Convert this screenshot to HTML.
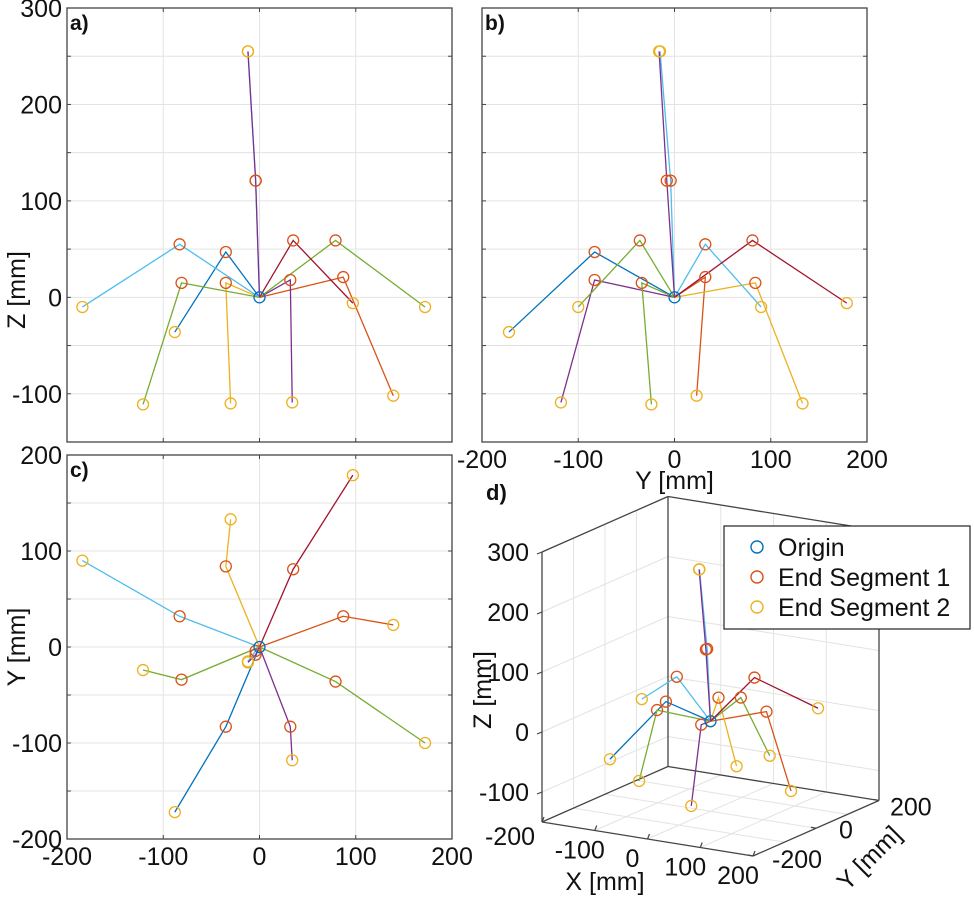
<!DOCTYPE html>
<html><head><meta charset="utf-8">
<style>
html,body{margin:0;padding:0;background:#fff;}
svg{display:block;font-family:"Liberation Sans",Arial,sans-serif;}
</style></head>
<body>
<svg id="fig" width="974" height="897" viewBox="0 0 974 897" xmlns="http://www.w3.org/2000/svg"></svg>
<script>
// ---- data: legs, origin -> end segment 1 -> end segment 2 (mm) ----
const legNames = ["leg-1","leg-2","leg-3","leg-4","leg-5","leg-6","leg-7","leg-8","leg-9","leg-10"];
const seg1X = [-35, 87, -35, 32, -81, 79, -83, 35, -4, -4];
const seg1Y = [-83, 32, 84, -83, -34, -36, 32, 81, -4, -8];
const seg1Z = [47, 21, 15, 18, 15, 59, 55, 59, 121, 121];
const seg2X = [-88, 139, -30, 34, -121, 172, -184, 97, -12, -12];
const seg2Y = [-172, 23, 133, -118, -24, -100, 90, 179, -15, -16];
const seg2Z = [-36, -102, -110, -109, -111, -10, -10, -6, 255, 255];
const legColors = ["#0072BD","#D95319","#EDB120","#7E2F8E","#77AC30","#77AC30","#4DBEEE","#A2142F","#4DBEEE","#7E2F8E"];
const legendLabels = ["Origin","End Segment 1","End Segment 2"];
const markerColors = ["#0072BD","#D95319","#EDB120"];
const ticks100 = [-200,-100,0,100,200];
const zTicks = [-100,0,100,200,300];
const zMinor = [-150,-100,-50,0,50,100,150,200,250,300];
const yMinor = [-200,-150,-100,-50,0,50,100,150,200];
const NS = "http://www.w3.org/2000/svg";
const svg = document.getElementById("fig");
const FS = 25;
function mk(tag, attrs, parent, text){
  const e = document.createElementNS(NS, tag);
  for (const k in attrs) e.setAttribute(k, attrs[k]);
  if (text !== undefined) e.textContent = text;
  (parent || svg).appendChild(e);
  return e;
}
function lin(d0,d1,r0,r1){ return v => r0 + (v-d0)*(r1-r0)/(d1-d0); }

function panel2D(opt){
  const g = mk("g", {});
  
  
  const sx = lin(opt.xd[0], opt.xd[1], opt.x0, opt.x1);
  const sy = lin(opt.yd[0], opt.yd[1], opt.y0, opt.y1);
  opt.xGrid.forEach(v => {
    const l = mk("line", {x1:sx(v),x2:sx(v),y1:opt.y1,y2:opt.y0,stroke:"#e3e3e3","stroke-width":1}, g);
    
    
  });
  opt.yGrid.forEach(v => {
    const l = mk("line", {x1:opt.x0,x2:opt.x1,y1:sy(v),y2:sy(v),stroke:"#e3e3e3","stroke-width":1}, g);
    
    
  });
  opt.xGrid.forEach(v => {
    mk("line", {x1:sx(v),x2:sx(v),y1:opt.y0,y2:opt.y0-4,stroke:"#444"}, g);
    mk("line", {x1:sx(v),x2:sx(v),y1:opt.y1,y2:opt.y1+4,stroke:"#444"}, g);
  });
  opt.yGrid.forEach(v => {
    mk("line", {x1:opt.x0,x2:opt.x0+4,y1:sy(v),y2:sy(v),stroke:"#444"}, g);
    mk("line", {x1:opt.x1,x2:opt.x1-4,y1:sy(v),y2:sy(v),stroke:"#444"}, g);
  });
  for (let i=0;i<legNames.length;i++){
    const a = opt.get(i);
    const p = mk("polyline", {points:`${sx(0)},${sy(0)} ${sx(a[0])},${sy(a[1])} ${sx(a[2])},${sy(a[3])}`, fill:"none", stroke:legColors[i], "stroke-width":1.3}, g);
    
    
  }
  for (let i=0;i<legNames.length;i++){
    const a = opt.get(i);
    const c1 = mk("circle", {cx:sx(a[0]),cy:sy(a[1]),r:5.5,fill:"none",stroke:markerColors[1],"stroke-width":1.3}, g);
    
    
    const c2 = mk("circle", {cx:sx(a[2]),cy:sy(a[3]),r:5.5,fill:"none",stroke:markerColors[2],"stroke-width":1.3}, g);
    
    
  }
  const c0 = mk("circle", {cx:sx(0),cy:sy(0),r:5.5,fill:"none",stroke:markerColors[0],"stroke-width":1.3}, g);
  
  
  const b = mk("rect", {x:opt.x0,y:opt.y1,width:opt.x1-opt.x0,height:opt.y0-opt.y1,fill:"none",stroke:"#444","stroke-width":1.3}, g);
  
  
  if (opt.xLabels) opt.xLabels.forEach(v => {
    const t = mk("text", {x:sx(v),y:opt.xLabelY,"text-anchor":"middle","font-size":FS,fill:"#111"}, g, String(v));
    
    
  });
  if (opt.yLabels) opt.yLabels.forEach(v => {
    const t = mk("text", {x:opt.x0-5,y:sy(v)+9,"text-anchor":"end","font-size":FS,fill:"#111"}, g, String(v));
    
    
  });
  const pl = mk("text", {x:opt.x0+3,y:opt.y1+22,"font-size":21,"font-weight":"bold",fill:"#111"}, g, opt.tag);
  
  
  if (opt.yTitle){
    const yy = opt.yTitleY;
    const t = mk("text", {x:0,y:0,transform:`translate(25,${yy}) rotate(-90)`,"text-anchor":"middle","font-size":FS,fill:"#111"}, g, opt.yTitle);
    
    
  }
  if (opt.xTitle){
    const t = mk("text", {x:(opt.x0+opt.x1)/2,y:opt.xTitleY,"text-anchor":"middle","font-size":FS,fill:"#111"}, g, opt.xTitle);
    
    
  }
}

panel2D({name:"panel-a", tag:"a)", xd:[-200,200], yd:[-150,300], x0:67, x1:452, y0:442, y1:8,
  xGrid:[-100,0,100], yGrid:zMinor.slice(1,9), yLabels:zTicks, yTitle:"Z [mm]", yTitleY:290,
  get:i=>[seg1X[i],seg1Z[i],seg2X[i],seg2Z[i]]});
panel2D({name:"panel-b", tag:"b)", xd:[-200,200], yd:[-150,300], x0:482, x1:867, y0:442, y1:8,
  xGrid:[-100,0,100], yGrid:zMinor.slice(1,9), xLabels:ticks100, xLabelY:468, xTitle:"Y [mm]", xTitleY:489,
  get:i=>[seg1Y[i],seg1Z[i],seg2Y[i],seg2Z[i]]});
panel2D({name:"panel-c", tag:"c)", xd:[-200,200], yd:[-200,200], x0:67, x1:452, y0:839, y1:455,
  xGrid:[-100,0,100], yGrid:yMinor.slice(1,8), xLabels:ticks100, xLabelY:865, yLabels:ticks100, yTitle:"Y [mm]", yTitleY:647,
  get:i=>[seg1X[i],seg1Y[i],seg2X[i],seg2Y[i]]});

(function(){
  const g = mk("g", {});
  
  
  function P(X,Y,Z){
    const u=(X+200)/400, v=(Y+200)/400, w=(Z+150);
    return [542 + u*211 + v*126, 822 + u*34 - v*55.5 - w*0.6];
  }
  function L(a,b,st,sw,name){
    const l = mk("line",{x1:a[0],y1:a[1],x2:b[0],y2:b[1],stroke:st,"stroke-width":sw},g);
    
    
  }
  const gc="#e3e3e3";
  zTicks.forEach(z=>{ L(P(-200,-200,z),P(-200,200,z),gc,1,'z-gridline'); L(P(-200,200,z),P(200,200,z),gc,1,'z-gridline'); });
  [-100,0,100].forEach(y=>{ L(P(-200,y,-150),P(-200,y,300),gc,1,'y-gridline'); L(P(-200,y,-150),P(200,y,-150),gc,1,'y-gridline'); });
  [-100,0,100].forEach(x=>{ L(P(x,200,-150),P(x,200,300),gc,1,'x-gridline'); L(P(x,-200,-150),P(x,200,-150),gc,1,'x-gridline'); });
  const bc="#444";
  L(P(-200,-200,-150),P(-200,-200,300),bc,1.3,'z-axis-line');
  L(P(-200,200,-150),P(-200,200,300),bc,1.3,'box-edge');
  L(P(200,200,-150),P(200,200,300),bc,1.3,'box-edge');
  L(P(-200,-200,-150),P(200,-200,-150),bc,1.3,'x-axis-line');
  L(P(200,-200,-150),P(200,200,-150),bc,1.3,'y-axis-line');
  L(P(-200,-200,-150),P(-200,200,-150),bc,1.3,'box-edge');
  L(P(-200,200,-150),P(200,200,-150),bc,1.3,'box-edge');
  L(P(-200,-200,300),P(-200,200,300),bc,1.3,'box-edge');
  L(P(-200,200,300),P(200,200,300),bc,1.3,'box-edge');
  zTicks.forEach(z=>{ const p=P(-200,-200,z); L(p,[p[0]-5,p[1]+2],bc,1.2,'z-tick');
    const t=mk("text",{x:p[0]-13,y:p[1]+9,"text-anchor":"end","font-size":FS,fill:"#111"},g,String(z));
      });
  ticks100.forEach((x,k)=>{ const p=P(x,-200,-150); L(p,[p[0]+2,p[1]-5],bc,1.2,'x-tick');
    const t=mk("text",{x:p[0]-(k===0?32:15),y:p[1]+(k===0?23:28),"text-anchor":"middle","font-size":FS,fill:"#111"},g,String(x));
      });
  [-200,0,200].forEach((y,k)=>{ const p=P(200,y,-150); L(p,[p[0]-5,p[1]-1],bc,1.2,'y-tick');
    const t=mk("text",{x:p[0]+[19,23,11][k],y:p[1]+[12,10,15][k],"text-anchor":"start","font-size":FS,fill:"#111"},g,String(y));
      });
  let t=mk("text",{x:605,y:890,"text-anchor":"middle","font-size":FS,fill:"#111"},g,"X [mm]");
   
  t=mk("text",{x:0,y:0,transform:"translate(875,864) rotate(-45)","text-anchor":"middle","font-size":FS,fill:"#111"},g,"Y [mm]");
   
  t=mk("text",{x:0,y:0,transform:"translate(491,690) rotate(-90)","text-anchor":"middle","font-size":FS,fill:"#111"},g,"Z [mm]");
   
  t=mk("text",{x:486,y:500,"font-size":22,"font-weight":"bold",fill:"#111"},g,"d)");
   
  const o=P(0,0,0);
  for (let i=0;i<legNames.length;i++){
    const a=P(seg1X[i],seg1Y[i],seg1Z[i]), b=P(seg2X[i],seg2Y[i],seg2Z[i]);
    const p=mk("polyline",{points:`${o[0]},${o[1]} ${a[0]},${a[1]} ${b[0]},${b[1]}`,fill:"none",stroke:legColors[i],"stroke-width":1.3},g);
    
    
  }
  for (let i=0;i<legNames.length;i++){
    const a=P(seg1X[i],seg1Y[i],seg1Z[i]), b=P(seg2X[i],seg2Y[i],seg2Z[i]);
    const c1=mk("circle",{cx:a[0],cy:a[1],r:5.5,fill:"none",stroke:markerColors[1],"stroke-width":1.3},g);
    
    
    const c2=mk("circle",{cx:b[0],cy:b[1],r:5.5,fill:"none",stroke:markerColors[2],"stroke-width":1.3},g);
    
    
  }
  const c0=mk("circle",{cx:o[0],cy:o[1],r:5.5,fill:"none",stroke:markerColors[0],"stroke-width":1.3},g);
   
  const lg=mk("g",{},g);
   
  mk("rect",{x:724,y:526,width:246,height:103,fill:"#fff",stroke:"#222","stroke-width":1.2},lg);
  legendLabels.forEach((s,k)=>{
    const e=mk("g",{},lg);
     
    mk("circle",{cx:757,cy:547+k*30,r:6,fill:"none",stroke:markerColors[k],"stroke-width":1.4},e);
    mk("text",{x:778,y:556+k*30,"font-size":25,fill:"#111"},e,s);
  });
})();
</script>
</body></html>
